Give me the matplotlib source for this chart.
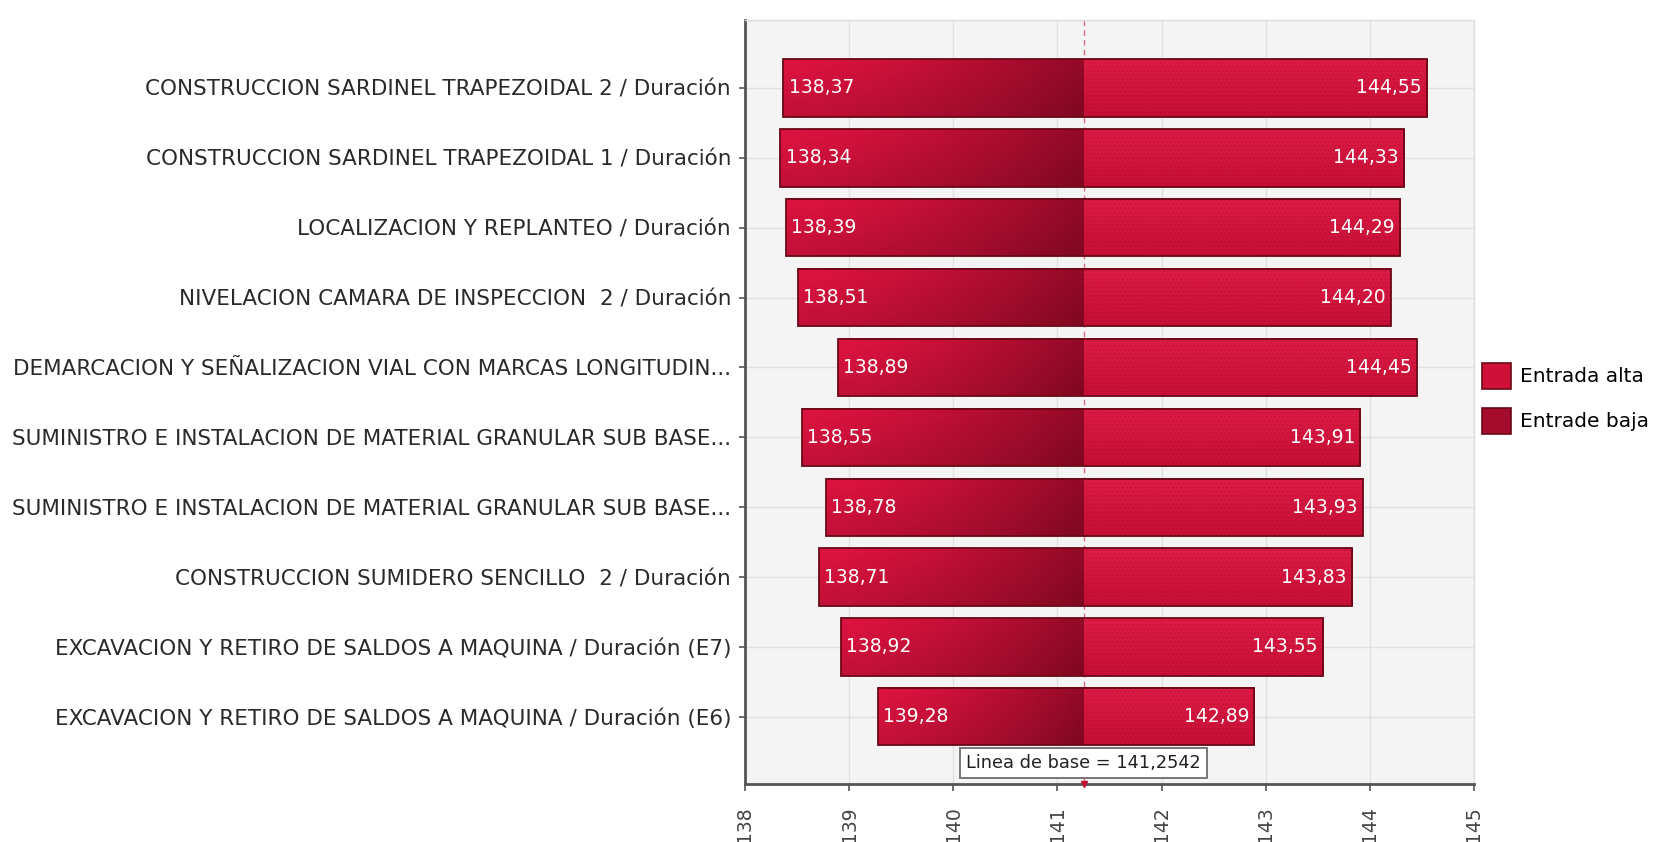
import numpy as np
import matplotlib
matplotlib.use("Agg")
import matplotlib.pyplot as plt
from matplotlib.patches import Patch
from matplotlib.colors import to_rgb

categories = [
    "CONSTRUCCION SARDINEL TRAPEZOIDAL 2 / Duración",
    "CONSTRUCCION SARDINEL TRAPEZOIDAL 1 / Duración",
    "LOCALIZACION Y REPLANTEO / Duración",
    "NIVELACION CAMARA DE INSPECCION  2 / Duración",
    "DEMARCACION Y SEÑALIZACION VIAL CON MARCAS LONGITUDIN...",
    "SUMINISTRO E INSTALACION DE MATERIAL GRANULAR SUB BASE...",
    "SUMINISTRO E INSTALACION DE MATERIAL GRANULAR SUB BASE...",
    "CONSTRUCCION SUMIDERO SENCILLO  2 / Duración",
    "EXCAVACION Y RETIRO DE SALDOS A MAQUINA / Duración (E7)",
    "EXCAVACION Y RETIRO DE SALDOS A MAQUINA / Duración (E6)",
]
low_values = [138.37, 138.34, 138.39, 138.51, 138.89, 138.55, 138.78, 138.71, 138.92, 139.28]
high_values = [144.55, 144.33, 144.29, 144.20, 144.45, 143.91, 143.93, 143.83, 143.55, 142.89]
baseline = 141.2542
x_ticks = [138, 139, 140, 141, 142, 143, 144, 145]
legend_labels = ["Entrada alta", "Entrade baja"]

FONT = "DejaVu Sans"
plt.rcParams['font.family'] = [FONT]

fig = plt.figure(figsize=(16.74, 8.42), dpi=100)
ax = fig.add_axes([0.445, 0.069, 0.4355, 0.907])
ax.set_facecolor("#f4f4f4")

n = len(categories)
ypos = np.arange(n)
bar_h = 0.82

def fmt(v):
    return f"{v:.2f}".replace(".", ",")

# bars
low_bars = ax.barh(ypos, np.array([baseline] * n) - np.array(low_values), left=low_values,
                   height=bar_h, color="#b00c30", zorder=3)
high_bars = ax.barh(ypos, np.array(high_values) - baseline, left=baseline,
                    height=bar_h, color="#cf1039", zorder=3)

bright = np.array(to_rgb("#d4123d"))
dark = np.array(to_rgb("#8c0925"))
hi_top = np.array(to_rgb("#dc1c46"))
hi_bot = np.array(to_rgb("#c70f36"))

ny, nx = 40, 120
vy = np.linspace(0, 1, ny)[:, None]          # 0 top -> 1 bottom
vshade = 1.05 - 0.14 * vy
for p in low_bars:
    x0, y0, w, h = p.get_x(), p.get_y(), p.get_width(), p.get_height()
    t = np.linspace(0, 1, nx)[None, :] ** 1.4
    img = bright[None, None, :] * (1 - t[..., None]) + dark[None, None, :] * t[..., None]
    img = np.clip(img * vshade[..., None], 0, 1)
    ax.imshow(img, extent=(x0, x0 + w, y0 + h, y0), aspect="auto",
              interpolation="bilinear", zorder=3.5)
for p in high_bars:
    x0, y0, w, h = p.get_x(), p.get_y(), p.get_width(), p.get_height()
    col = hi_top[None, :] * (1 - vy) + hi_bot[None, :] * vy
    img = np.repeat(col[:, None, :], 4, axis=1)
    ax.imshow(img, extent=(x0, x0 + w, y0 + h, y0), aspect="auto",
              interpolation="bilinear", zorder=3.5)

plt.rcParams['hatch.linewidth'] = 0.6
ax.barh(ypos, np.array(high_values) - baseline, left=baseline, height=bar_h,
        fill=False, edgecolor=(0.55, 0.0, 0.1, 0.22), hatch="....", linewidth=0, zorder=3.7)
# outlines
ax.barh(ypos, np.array(high_values) - np.array(low_values), left=low_values, height=bar_h,
        fill=False, edgecolor="#6a0818", linewidth=1.3, zorder=4)

# value labels
for i in range(n):
    ax.text(low_values[i] + 0.05, ypos[i], fmt(low_values[i]), color="white",
            ha="left", va="center", fontsize=13.5, zorder=5)
    ax.text(high_values[i] - 0.05, ypos[i], fmt(high_values[i]), color="white",
            ha="right", va="center", fontsize=13.5, zorder=5)

# baseline
ax.axvline(baseline, color="#e06f84", linestyle=(0, (4, 3)), linewidth=1.0, zorder=2)
ax.text(baseline, 9.66, f"Linea de base = {baseline:.4f}".replace(".", ","),
        ha="center", va="center", fontsize=12.8, color="#222222", zorder=6,
        bbox=dict(boxstyle="square,pad=0.35", facecolor="white", edgecolor="#777777", linewidth=1.4))

ax.set_xlim(138, 145)
ax.set_ylim(9.96, -0.97)
ax.set_aspect("auto")
ax.plot([baseline], [9.96], marker="v", color="#c0102e", markersize=5, clip_on=False, zorder=7)

ax.set_xticks(x_ticks)
ax.set_xticklabels([str(t) for t in x_ticks], rotation=90, fontsize=13.5, color="#444444")
ax.set_yticks(ypos)
ax.set_yticklabels(categories, fontsize=15.5, color="#2a2a2a")
ax.tick_params(axis="x", length=5, width=1.2, color="#555555", pad=11)
ax.tick_params(axis="y", length=4, width=1.2, color="#555555", pad=6)

ax.grid(True, color="#e0e0e0", linewidth=1.0, zorder=0)
ax.set_axisbelow(True)
for s in ["top", "right"]:
    ax.spines[s].set_color("#dddddd")
    ax.spines[s].set_linewidth(1.0)
for s in ["left", "bottom"]:
    ax.spines[s].set_color("#555555")
    ax.spines[s].set_linewidth(2.0)

handles = [Patch(facecolor="#cf1039", edgecolor="#6a0818", linewidth=1.2),
           Patch(facecolor="#a50b2c", edgecolor="#6a0818", linewidth=1.2)]
fig.legend(handles, legend_labels, loc="center left", bbox_to_anchor=(0.8805, 0.527),
           frameon=False, fontsize=14.5, handlelength=1.45, handleheight=1.6,
           handletextpad=0.45, labelspacing=0.95, borderaxespad=0)

fig.savefig("out.png", dpi=100)
